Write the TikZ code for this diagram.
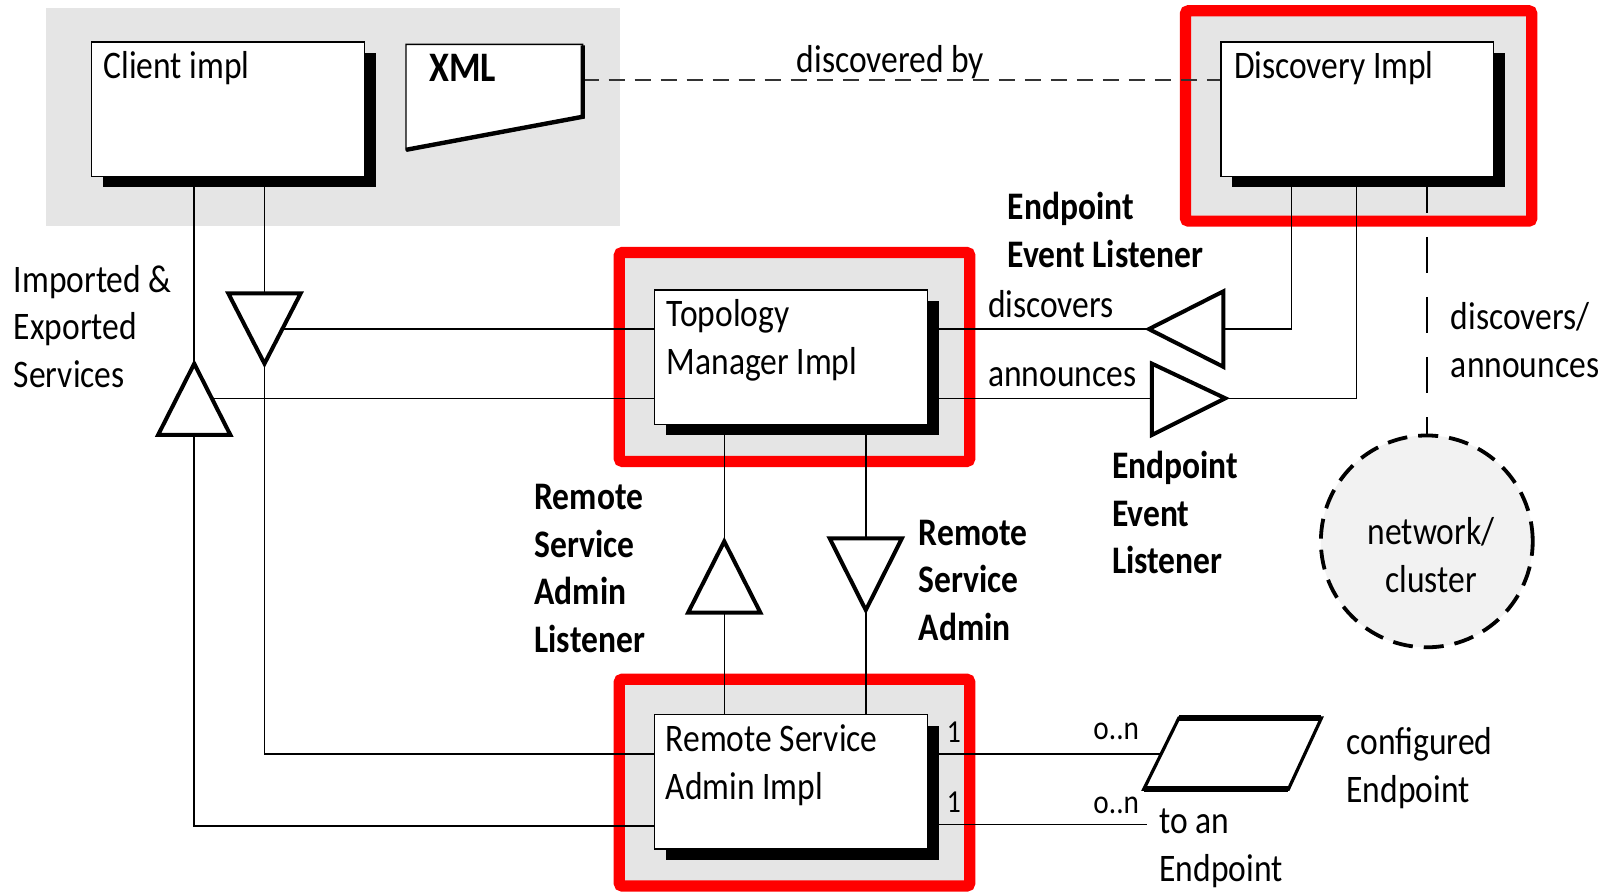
\documentclass[tikz,border=0pt]{standalone}
\usepackage{fontspec}
\setmainfont{Carlito}[FakeStretch=0.86]
\usetikzlibrary{shadows,calc}
\definecolor{bggray}{HTML}{E5E5E5}
\definecolor{circgray}{HTML}{F2F2F2}
\definecolor{redb}{HTML}{FF0000}
\tikzset{
  txt/.style={font=\fontsize{19.5}{23.8}\selectfont, inner sep=0pt, align=left, anchor=base west},
  btxt/.style={txt, font=\fontsize{19.5}{23.8}\selectfont\bfseries},
  smalltxt/.style={txt, font=\fontsize{16}{18}\selectfont},
  multtxt/.style={txt, font=\fontsize{17}{20}\selectfont},
  implbox/.style={draw=black, line width=0.7pt, fill=white, minimum width=136.4pt,
     minimum height=67.1pt, inner sep=0pt, anchor=north west,
     drop shadow={shadow xshift=5.8pt, shadow yshift=-5.6pt, fill=black, opacity=1}},
  redframe/.style={draw=redb, line width=5.6pt, fill=bggray, rounded corners=1.5pt},
  conn/.style={line width=0.75pt, draw=black},
  tri/.style={draw=black, line width=2pt, fill=white, line join=miter},
  shortdash/.style={line width=0.9pt, draw=black!80, dash pattern=on 8pt off 5pt},
  longdash/.style={line width=0.9pt, draw=black, dash pattern=on 18pt off 12pt},
  netc/.style={circle, draw=black, fill=circgray, line width=1.9pt, dash pattern=on 10pt off 5.5pt,
     minimum size=105.9pt, inner sep=0pt},
}
\begin{document}
\begin{tikzpicture}[x=0.5165pt,y=-0.5165pt]
\useasboundingbox (0,0) rectangle (1568,863.4);
\fill[white] (0,0) rectangle (1568,863.4);

% backgrounds
\fill[bggray] (45,8) rectangle (600,219);
\draw[redframe] (1147.4,10.4) rectangle (1482.6,214);
\draw[redframe] (599.4,244.4) rectangle (938.6,446.6);
\draw[redframe] (599.4,657.4) rectangle (938.6,857.6);

% helper coordinates (triangles etc.)
\coordinate (t1a) at (221,284);
\coordinate (t1b) at (291,284);
\coordinate (t1top) at (256,284);
\coordinate (t1apex) at (256,352);
\coordinate (t1s) at (273.5,318.5);
\coordinate (t2apex) at (188,352);
\coordinate (t2l) at (153,421);
\coordinate (t2r) at (223,421);
\coordinate (t2bot) at (188,421);
\coordinate (t2s) at (205,385.5);
\coordinate (t3tip) at (1112,318.5);
\coordinate (t3u) at (1184,282);
\coordinate (t3d) at (1184,355);
\coordinate (t3base) at (1184,318.5);
\coordinate (t4u) at (1115,352);
\coordinate (t4d) at (1115,421);
\coordinate (t4base) at (1115,385.5);
\coordinate (t4tip) at (1186,385.5);
\coordinate (t5apex) at (701,524);
\coordinate (t5l) at (666,593);
\coordinate (t5r) at (736,593);
\coordinate (t5bot) at (701,593);
\coordinate (t6l) at (803,521);
\coordinate (t6r) at (873,521);
\coordinate (t6top) at (838,521);
\coordinate (t6apex) at (838,590.5);
\coordinate (pTL) at (1141,695);
\coordinate (pTR) at (1279,695);
\coordinate (pBR) at (1247,764);
\coordinate (pBL) at (1107,764);
\coordinate (pL) at (1123.5,730);
\coordinate (endR) at (1110,798);
\coordinate (xmlE) at (564,77.5);

% boxes (positions only, drawn later for layering)
\path (88,40) node[implbox, draw=none, fill=none, drop shadow={opacity=0}] (client) {};
\path (1181,40) node[implbox, draw=none, fill=none, drop shadow={opacity=0}] (disc) {};
\path (633,280) node[implbox, draw=none, fill=none, drop shadow={opacity=0}] (topo) {};
\path (633,691) node[implbox, draw=none, fill=none, drop shadow={opacity=0}] (rsa) {};
\node[netc] (net) at (1381,524) {};

% connectors
\draw[conn] (client.south -| t2apex) -- (t2apex);
\draw[conn] (t2bot) |- ($(rsa.south west)+(0,-23)$);
\draw[conn] (client.south -| t1top) -- (t1top);
\draw[conn] (t1apex) |- ($(rsa.north west)+(0,39)$);
\draw[conn] (t1s) -- (t1s -| topo.west);
\draw[conn] (t2s) -- (t2s -| topo.west);
\draw[conn] (t3tip -| topo.east) -- (t3tip);
\draw[conn] (t3base) -| ($(disc.south west)+(69,0)$);
\draw[conn] (t4base -| topo.east) -- (t4base);
\draw[conn] (t4tip) -| ($(disc.south west)+(132,0)$);
\draw[longdash] ($(disc.south west)+(200,0)$) -- (net.north);
\draw[shortdash] (xmlE) -- (xmlE -| disc.west);
\draw[conn] ($(topo.south west)+(68,0)$) -- (t5apex);
\draw[conn] (t5bot) -- (t5bot |- rsa.north);
\draw[conn] (topo.south -| t6top) -- (t6top);
\draw[conn] (t6apex) -- (t6apex |- rsa.north);
\draw[conn] (pL -| rsa.east) -- (pL);
\draw[conn] (endR -| rsa.east) -- (endR);

% boxes with shadows
\node[implbox] (clientb) at (client.north west) {};
\node[implbox] (discb) at (disc.north west) {};
\node[implbox] (topob) at (topo.north west) {};
\node[implbox] (rsab) at (rsa.north west) {};

% triangles
\draw[tri] (t1a) -- (t1b) -- (t1apex) -- cycle;
\draw[tri] (t2apex) -- (t2r) -- (t2l) -- cycle;
\draw[tri] (t3tip) -- (t3u) -- (t3d) -- cycle;
\draw[tri] (t4u) -- (t4tip) -- (t4d) -- cycle;
\draw[tri] (t5apex) -- (t5r) -- (t5l) -- cycle;
\draw[tri] (t6l) -- (t6r) -- (t6apex) -- cycle;

% XML shape
\draw[fill=white, line width=0.7pt] (393,43) -- (564,43) -- (564,113) -- (393,145) -- cycle;
\draw[line width=2.2pt, line join=miter] (564,44) -- (564,113) -- (393,145);

% configured endpoint parallelogram
\draw[fill=white, line width=1.6pt, line join=miter] (pTL) -- (pTR) -- (pBR) -- (pBL) -- cycle;
\draw[line width=3pt] (pTL) -- (pTR);
\draw[line width=3pt] (pBL) -- (pBR);

% texts
\node[txt] (lclient) at (100,76) {Client impl};
\node[btxt, font=\fontsize{21}{24}\selectfont\bfseries] (lxml) at (415,79) {XML};
\node[txt] (ldiscby) at (771,70) {discovered by};
\node[txt] (ldisc) at (1194,76) {Discovery Impl};
\node[btxt] (lel1) at (975,258.5) {Endpoint\\Event Listener};
\node[txt] (ldiscovers) at (956,307) {discovers};
\node[txt] (lannounces) at (956,374.5) {announces};
\node[txt] (lda) at (1404,365) {discovers/\\announces};
\node[txt] (ltopo) at (645,362) {Topology\\Manager Impl};
\node[txt] (limp) at (13,375) {Imported \&\\Exported\\Services};
\node[btxt] (lrsal) at (517,631.5) {Remote\\Service\\Admin\\Listener};
\node[btxt] (lrsa) at (889,620) {Remote\\Service\\Admin};
\node[btxt] (lel2) at (1076,555.5) {Endpoint\\Event\\Listener};
\node[txt, align=center, anchor=base] (lnet) at (1385,573.5) {network/\\cluster};
\node[txt] (lrsaimpl) at (644,773.5) {Remote Service\\Admin Impl};
\node[smalltxt] (lone1) at (916,719) {1};
\node[smalltxt] (lone2) at (916,786) {1};
\node[multtxt] (lon1) at (1058,716) {o..n};
\node[multtxt] (lon2) at (1058,787) {o..n};
\node[txt] (lconf) at (1303,776.5) {configured\\Endpoint};
\node[txt] (ltoan) at (1122,853) {to an\\Endpoint};
\end{tikzpicture}
\end{document}
